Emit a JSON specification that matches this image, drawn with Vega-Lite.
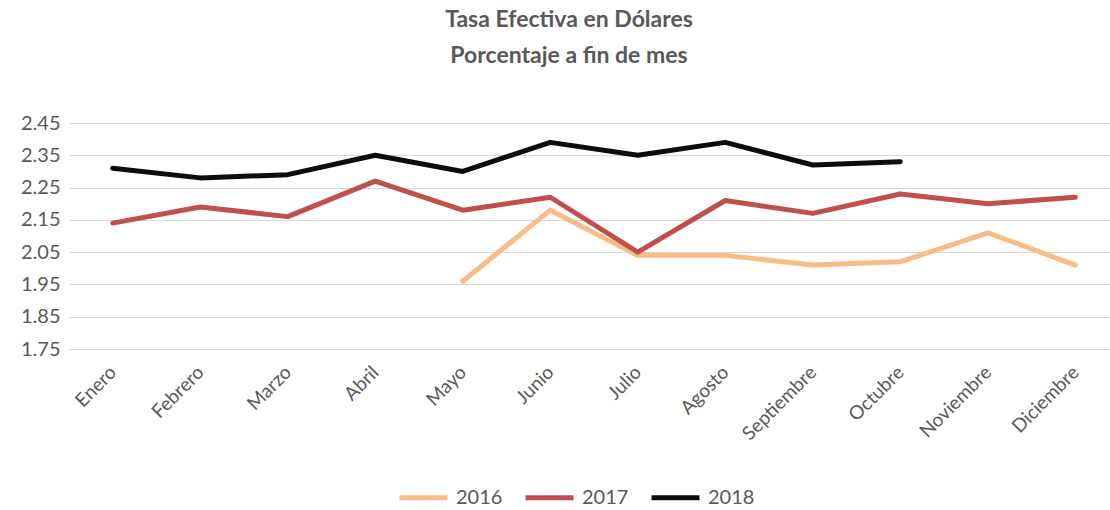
{
  "$schema": "https://vega.github.io/schema/vega-lite/v6.json",
  "width": 1050,
  "height": 226,
  "autosize": {"type": "none"},
  "padding": {"left": 69, "top": 123, "right": -9, "bottom": 161},
  "background": "white",
  "title": {
    "text": ["Tasa Efectiva en Dólares", "Porcentaje a fin de mes"],
    "font": "Lato",
    "fontSize": 23,
    "fontWeight": "bold",
    "color": "#595959",
    "anchor": "middle",
    "frame": "group",
    "dx": -25,
    "offset": 45,
    "lineHeight": 36
  },
  "config": {
    "view": {"stroke": null},
    "font": "Lato"
  },
  "data": {
    "values": [
      {"mes": "Mayo", "anio": "2016", "valor": 1.96},
      {"mes": "Junio", "anio": "2016", "valor": 2.18},
      {"mes": "Julio", "anio": "2016", "valor": 2.04},
      {"mes": "Agosto", "anio": "2016", "valor": 2.04},
      {"mes": "Septiembre", "anio": "2016", "valor": 2.01},
      {"mes": "Octubre", "anio": "2016", "valor": 2.02},
      {"mes": "Noviembre", "anio": "2016", "valor": 2.11},
      {"mes": "Diciembre", "anio": "2016", "valor": 2.01},
      {"mes": "Enero", "anio": "2017", "valor": 2.14},
      {"mes": "Febrero", "anio": "2017", "valor": 2.19},
      {"mes": "Marzo", "anio": "2017", "valor": 2.16},
      {"mes": "Abril", "anio": "2017", "valor": 2.27},
      {"mes": "Mayo", "anio": "2017", "valor": 2.18},
      {"mes": "Junio", "anio": "2017", "valor": 2.22},
      {"mes": "Julio", "anio": "2017", "valor": 2.05},
      {"mes": "Agosto", "anio": "2017", "valor": 2.21},
      {"mes": "Septiembre", "anio": "2017", "valor": 2.17},
      {"mes": "Octubre", "anio": "2017", "valor": 2.23},
      {"mes": "Noviembre", "anio": "2017", "valor": 2.20},
      {"mes": "Diciembre", "anio": "2017", "valor": 2.22},
      {"mes": "Enero", "anio": "2018", "valor": 2.31},
      {"mes": "Febrero", "anio": "2018", "valor": 2.28},
      {"mes": "Marzo", "anio": "2018", "valor": 2.29},
      {"mes": "Abril", "anio": "2018", "valor": 2.35},
      {"mes": "Mayo", "anio": "2018", "valor": 2.30},
      {"mes": "Junio", "anio": "2018", "valor": 2.39},
      {"mes": "Julio", "anio": "2018", "valor": 2.35},
      {"mes": "Agosto", "anio": "2018", "valor": 2.39},
      {"mes": "Septiembre", "anio": "2018", "valor": 2.32},
      {"mes": "Octubre", "anio": "2018", "valor": 2.33}
    ]
  },
  "mark": {"type": "line", "strokeWidth": 5, "strokeCap": "round", "strokeJoin": "round"},
  "encoding": {
    "x": {
      "field": "mes",
      "type": "nominal",
      "sort": ["Enero", "Febrero", "Marzo", "Abril", "Mayo", "Junio", "Julio", "Agosto", "Septiembre", "Octubre", "Noviembre", "Diciembre"],
      "scale": {"type": "point", "padding": 0.5},
      "axis": {
        "title": null,
        "labelAngle": -45,
        "labelAlign": "right",
        "labelBaseline": "middle",
        "labelFontSize": 19,
        "labelColor": "#595959",
        "labelPadding": 20,
        "ticks": false,
        "domain": false,
        "grid": false
      }
    },
    "y": {
      "field": "valor",
      "type": "quantitative",
      "scale": {"domain": [1.75, 2.45], "nice": false, "zero": false},
      "axis": {
        "title": null,
        "values": [1.75, 1.85, 1.95, 2.05, 2.15, 2.25, 2.35, 2.45],
        "format": ".2f",
        "labelFontSize": 20,
        "labelColor": "#595959",
        "labelPadding": 9,
        "ticks": false,
        "domain": false,
        "grid": true,
        "gridColor": "#d9d9d9",
        "gridWidth": 1
      }
    },
    "color": {
      "field": "anio",
      "type": "nominal",
      "scale": {"domain": ["2016", "2017", "2018"], "range": ["#F8BC86", "#C0504D", "#0D0D0D"]},
      "legend": {
        "title": null,
        "orient": "none",
        "direction": "horizontal",
        "legendX": 328,
        "legendY": 348,
        "symbolType": "stroke",
        "symbolSize": 2300,
        "symbolStrokeWidth": 5,
        "labelFontSize": 20,
        "labelColor": "#595959",
        "labelOffset": 6,
        "columnPadding": 12
      }
    }
  }
}
